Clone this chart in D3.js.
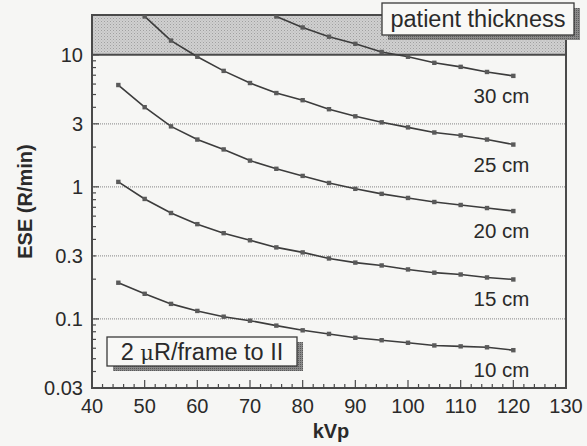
<!DOCTYPE html>
<html>
<head>
<meta charset="utf-8">
<script src="https://cdn.jsdelivr.net/npm/d3@7"></script>
<style>
  body { margin: 0; background: #f6f6f4; }
  text { font-family: "Liberation Sans", Arial, sans-serif; fill: #2a2a2a; }
</style>
</head>
<body>
<div id="chart"></div>
<script>
// kVp settings, one marker every 5 kVp
var kvp = [45, 50, 55, 60, 65, 70, 75, 80, 85, 90, 95, 100, 105, 110, 115, 120];

// ESE (R/min), null where the curve is off the chart
var ese30 = [null, null, null, null, null, null, 19.5, 16.1, 13.7, 12.1, 10.5, 9.66, 8.69, 8.10, 7.41, 6.92];
var ese25 = [null, 19.5, 12.8, 9.66, 7.55, 6.11, 5.13, 4.53, 3.87, 3.42, 3.08, 2.82, 2.58, 2.45, 2.28, 2.09];
var ese20 = [5.90, 4.01, 2.87, 2.28, 1.92, 1.58, 1.37, 1.21, 1.07, 0.966, 0.885, 0.824, 0.768, 0.729, 0.691, 0.656];
var ese15 = [1.09, 0.81, 0.634, 0.522, 0.446, 0.394, 0.348, 0.319, 0.287, 0.267, 0.254, 0.237, 0.224, 0.217, 0.206, 0.199];
var ese10 = [0.188, 0.155, 0.130, 0.115, 0.104, 0.097, 0.089, 0.082, 0.077, 0.072, 0.069, 0.066, 0.063, 0.062, 0.061, 0.058];

var curveLabels = ["30 cm", "25 cm", "20 cm", "15 cm", "10 cm"];
var curves = [ese30, ese25, ese20, ese15, ese10];

// axis ticks
var xTicks = [40, 50, 60, 70, 80, 90, 100, 110, 120, 130];
var yTicks = [0.03, 0.1, 0.3, 1, 3, 10];
var yGrid = [0.1, 0.3, 1, 3];

var svgWidth = 587;
var svgHeight = 446;
var margin = { top: 15, right: 21, bottom: 58, left: 92 };
var width = svgWidth - margin.left - margin.right;
var height = svgHeight - margin.top - margin.bottom;

var svg = d3.select("#chart")
  .append("svg")
  .attr("width", svgWidth)
  .attr("height", svgHeight);

// dotted fill for the shaded strip and the box shadows
var defs = svg.append("defs");
var pat = defs.append("pattern")
  .attr("id", "dots")
  .attr("width", 3)
  .attr("height", 3)
  .attr("patternUnits", "userSpaceOnUse");
pat.append("rect").attr("width", 3).attr("height", 3).attr("fill", "#d0d0d0");
pat.append("rect").attr("width", 1).attr("height", 1).attr("fill", "#a0a0a0");
pat.append("rect").attr("x", 1.5).attr("y", 1.5).attr("width", 1).attr("height", 1).attr("fill", "#b0b0b0");

var pat2 = defs.append("pattern")
  .attr("id", "dark")
  .attr("width", 2)
  .attr("height", 2)
  .attr("patternUnits", "userSpaceOnUse");
pat2.append("rect").attr("width", 2).attr("height", 2).attr("fill", "#8a8a8a");
pat2.append("rect").attr("width", 1).attr("height", 1).attr("fill", "#5a5a5a");

defs.append("clipPath").attr("id", "plot-clip")
  .append("rect").attr("width", width).attr("height", height);

var chartGroup = svg.append("g")
  .attr("transform", `translate(${margin.left}, ${margin.top})`);

var xScale = d3.scaleLinear().domain([40, 130]).range([0, width]);
var yScale = d3.scaleLog().domain([0.03, 20]).range([height, 0]);

// shaded strip above 10 R/min
chartGroup.append("rect")
  .attr("x", 0)
  .attr("y", 0)
  .attr("width", width)
  .attr("height", yScale(10))
  .attr("fill", "url(#dots)");

// dotted grid lines
chartGroup.selectAll("line.grid")
  .data(yGrid)
  .enter()
  .append("line")
  .classed("grid", true)
  .attr("x1", 0)
  .attr("x2", width)
  .attr("y1", d => yScale(d))
  .attr("y2", d => yScale(d))
  .attr("stroke", "#9a9a9a")
  .attr("stroke-width", 1.2)
  .attr("stroke-dasharray", "1,1");

// limit line at 10
chartGroup.append("line")
  .attr("x1", 0)
  .attr("x2", width)
  .attr("y1", yScale(10))
  .attr("y2", yScale(10))
  .attr("stroke", "#4a4a4a")
  .attr("stroke-width", 2);

// frame
chartGroup.append("rect")
  .attr("width", width)
  .attr("height", height)
  .attr("fill", "none")
  .attr("stroke", "#4a4a4a")
  .attr("stroke-width", 2);

// minor ticks, inside the frame
var yMinor = [];
[0.01, 0.1, 1, 10].forEach(function(dec) {
  for (var k = 1; k < 10; k++) {
    var v = dec * k;
    if (v >= 0.03 && v <= 20) yMinor.push(v);
  }
});
chartGroup.selectAll("line.ytick")
  .data(yMinor)
  .enter()
  .append("line")
  .classed("ytick", true)
  .attr("x1", 0)
  .attr("x2", d => yTicks.indexOf(d) >= 0 ? 7 : 4)
  .attr("y1", d => yScale(d))
  .attr("y2", d => yScale(d))
  .attr("stroke", "#4a4a4a")
  .attr("stroke-width", 1.2);

chartGroup.selectAll("line.xtick")
  .data(d3.range(40, 131, 2))
  .enter()
  .append("line")
  .classed("xtick", true)
  .attr("x1", d => xScale(d))
  .attr("x2", d => xScale(d))
  .attr("y1", height)
  .attr("y2", d => d % 10 === 0 ? height - 8 : height - 4)
  .attr("stroke", "#4a4a4a")
  .attr("stroke-width", 1.2);

// tick labels
chartGroup.selectAll("text.xlab")
  .data(xTicks)
  .enter()
  .append("text")
  .classed("xlab", true)
  .attr("x", d => xScale(d))
  .attr("y", height + 25)
  .attr("text-anchor", "middle")
  .attr("font-size", "20px")
  .text(d => d);

chartGroup.selectAll("text.ylab")
  .data(yTicks)
  .enter()
  .append("text")
  .classed("ylab", true)
  .attr("x", -9)
  .attr("y", d => yScale(d))
  .attr("dy", "0.36em")
  .attr("text-anchor", "end")
  .attr("font-size", "20px")
  .text(d => d);

// curves
var line = d3.line()
  .defined(d => d[1] != null)
  .x(d => xScale(d[0]))
  .y(d => yScale(d[1]));

var plot = chartGroup.append("g").attr("clip-path", "url(#plot-clip)");

curves.forEach(function(vals) {
  var pts = kvp.map((k, i) => [k, vals[i]]);
  plot.append("path")
    .datum(pts)
    .attr("d", line)
    .attr("fill", "none")
    .attr("stroke", "#3c3c3c")
    .attr("stroke-width", 1.6);

  plot.selectAll(null)
    .data(pts.filter(d => d[1] != null))
    .enter()
    .append("rect")
    .attr("x", d => xScale(d[0]) - 2.2)
    .attr("y", d => yScale(d[1]) - 2.2)
    .attr("width", 4.4)
    .attr("height", 4.4)
    .attr("fill", "#5a5a5a");
});

// curve labels under the right end of each curve
chartGroup.selectAll("text.clab")
  .data(curves)
  .enter()
  .append("text")
  .classed("clab", true)
  .attr("x", xScale(120) + 16)
  .attr("y", d => yScale(d[d.length - 1]) + 27)
  .attr("text-anchor", "end")
  .attr("font-size", "20.5px")
  .text((d, i) => curveLabels[i]);

// boxed notes with shadow
function noteBox(x, y, w, h, size) {
  svg.append("rect")
    .attr("x", x + 6).attr("y", y + 5)
    .attr("width", w).attr("height", h)
    .attr("fill", "url(#dark)");
  svg.append("rect")
    .attr("x", x).attr("y", y)
    .attr("width", w).attr("height", h)
    .attr("fill", "#f8f8f6")
    .attr("stroke", "#3a3a3a")
    .attr("stroke-width", 1.3);
  return svg.append("text")
    .attr("x", x + w / 2)
    .attr("y", y + h / 2)
    .attr("dy", "0.35em")
    .attr("text-anchor", "middle")
    .attr("font-size", size + "px");
}

noteBox(382, 3, 192, 32, 23.5).text("patient thickness");

var t2 = noteBox(107, 337, 190, 29, 23.5);
t2.append("tspan").text("2 ");
t2.append("tspan").attr("font-family", "'DejaVu Serif', serif").attr("font-size", "21px").text("μ");
t2.append("tspan").text("R/frame to II");

// axis titles
svg.append("text")
  .attr("transform", "rotate(-90)")
  .attr("x", -(margin.top + height / 2))
  .attr("y", 32)
  .attr("text-anchor", "middle")
  .attr("font-size", "20px")
  .attr("font-weight", "bold")
  .text("ESE (R/min)");

svg.append("text")
  .attr("x", 331)
  .attr("y", 438)
  .attr("text-anchor", "middle")
  .attr("font-size", "20px")
  .attr("font-weight", "bold")
  .text("kVp");
</script>
</body>
</html>
